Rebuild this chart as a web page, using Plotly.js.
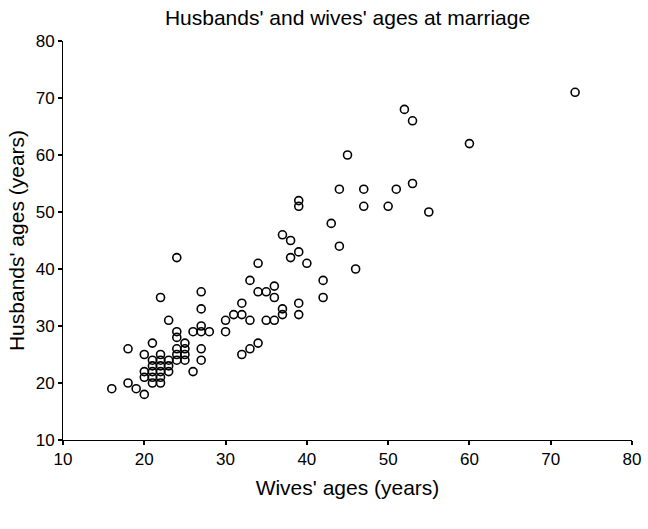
<!DOCTYPE html>
<html>
<head>
<meta charset="utf-8">
<script src="https://cdn.plot.ly/plotly-3.0.1.min.js"></script>
<style>
  html, body { margin: 0; padding: 0; background: #ffffff; }
  #chart { width: 648px; height: 529px; }
</style>
</head>
<body>
<div id="chart"></div>
<script>
// Wives' ages (years) at marriage
const wivesAges = [
  16, 18, 18, 19, 20, 20, 20, 20,
  21, 21, 21, 21, 21, 21,
  22, 22, 22, 22, 22, 22, 22,
  23, 23, 23, 23,
  24, 24, 24, 24, 24, 24,
  25, 25, 25, 25,
  26, 26,
  27, 27, 27, 27, 27, 27,
  28, 30, 30, 31, 32, 32, 32,
  33, 33, 33, 34, 34, 34, 35, 35, 36, 36, 36,
  37, 37, 37, 38, 38, 39, 39, 39, 39, 39,
  40, 42, 42, 43, 44, 44, 45, 46, 47, 47,
  50, 51, 52, 53, 53, 55, 60, 73
];
// Husbands' ages (years) at marriage
const husbandsAges = [
  19, 26, 20, 19, 18, 21, 22, 25,
  27, 24, 23, 22, 21, 20,
  35, 25, 24, 23, 22, 21, 20,
  31, 24, 23, 22,
  42, 29, 28, 26, 25, 24,
  27, 26, 25, 24,
  29, 22,
  36, 33, 30, 29, 26, 24,
  29, 31, 29, 32, 34, 32, 25,
  38, 31, 26, 41, 36, 27, 36, 31, 37, 35, 31,
  46, 33, 32, 45, 42, 52, 51, 43, 34, 32,
  41, 38, 35, 48, 54, 44, 60, 40, 54, 51,
  51, 54, 68, 66, 55, 50, 62, 71
];
const axisTicks = [10, 20, 30, 40, 50, 60, 70, 80];

const trace = {
  type: 'scatter',
  mode: 'markers',
  x: wivesAges,
  y: husbandsAges,
  marker: {
    symbol: 'circle-open',
    size: 8,
    color: '#000000',
    line: { width: 1.6, color: '#000000' }
  },
  hoverinfo: 'x+y'
};

const axisFont = { family: 'Liberation Sans, Arial, sans-serif', size: 17, color: '#000000' };
const titleFont = { family: 'Liberation Sans, Arial, sans-serif', size: 21, color: '#000000' };

const layout = {
  width: 648,
  height: 529,
  margin: { l: 63, r: 16, t: 41, b: 89 },
  paper_bgcolor: '#ffffff',
  plot_bgcolor: '#ffffff',
  showlegend: false,
  title: {
    text: "Husbands' and wives' ages at marriage",
    font: titleFont,
    x: 0.5, xref: 'paper',
    y: 1 - 18 / 529, yref: 'container', yanchor: 'middle'
  },
  xaxis: {
    range: [10, 80],
    tickmode: 'array',
    tickvals: axisTicks,
    ticktext: axisTicks.map(String),
    showgrid: false,
    zeroline: false,
    showline: true,
    linecolor: '#000000',
    linewidth: 1,
    ticks: 'outside',
    ticklen: 4,
    tickwidth: 2,
    tickcolor: '#000000',
    tickfont: axisFont,
    title: { text: "Wives' ages (years)", font: titleFont, standoff: 11 }
  },
  yaxis: {
    range: [10, 80],
    tickmode: 'array',
    tickvals: axisTicks,
    ticktext: axisTicks.map(String),
    showgrid: false,
    zeroline: false,
    showline: true,
    linecolor: '#000000',
    linewidth: 1,
    ticks: 'outside',
    ticklen: 4,
    tickwidth: 2,
    tickcolor: '#000000',
    tickfont: axisFont,
    title: { text: "Husbands' ages (years)", font: titleFont, standoff: 5 }
  }
};

Plotly.newPlot('chart', [trace], layout, { displayModeBar: false, staticPlot: false });
</script>
</body>
</html>
